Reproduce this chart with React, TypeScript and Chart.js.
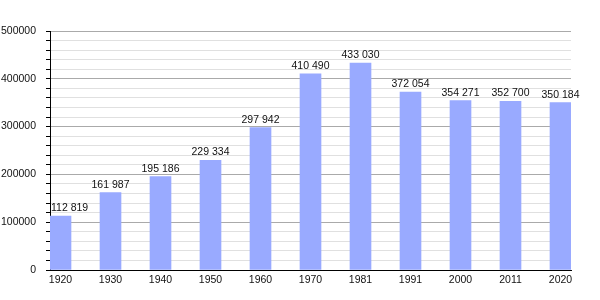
import React, { useEffect, useRef } from "react";
import { Chart, registerables } from "chart.js";

Chart.register(...registerables);

const years = ["1920", "1930", "1940", "1950", "1960", "1970", "1981", "1991", "2000", "2011", "2020"];
const population = [112819, 161987, 195186, 229334, 297942, 410490, 433030, 372054, 354271, 352700, 350184];
const labelTexts = ["112 819", "161 987", "195 186", "229 334", "297 942", "410 490", "433 030", "372 054", "354 271", "352 700", "350 184"];

const FONT = "'Liberation Sans', Arial, sans-serif";

const valueLabels = {
  id: "valueLabels",
  afterDatasetsDraw(chart: any) {
    const ctx = chart.ctx;
    const meta = chart.getDatasetMeta(0);
    const area = chart.chartArea;
    ctx.save();
    ctx.font = `10.5px ${FONT}`;
    ctx.fillStyle = "#111";
    ctx.textBaseline = "alphabetic";
    ctx.textAlign = "left";
    meta.data.forEach((bar: any, i: number) => {
      const t = labelTexts[i];
      const w = ctx.measureText(t).width;
      let x = bar.x - w / 2;
      if (x < area.left + 1) x = area.left + 1;
      ctx.fillText(t, x, bar.y - 5);
    });
    ctx.restore();
  },
};

export default function App() {
  const ref = useRef<HTMLCanvasElement>(null);
  useEffect(() => {
    const chart = new Chart(ref.current as HTMLCanvasElement, {
      type: "bar",
      data: {
        datasets: [
          {
            data: population.map((v, i) => ({ x: i, y: v })),
            backgroundColor: "#99aaff",
            borderWidth: 0,
            barThickness: 21,
          },
        ],
      },
      plugins: [valueLabels],
      options: {
        responsive: false,
        animation: false,
        layout: { padding: { top: 31, right: 29, left: 0, bottom: 0 } },
        plugins: { legend: { display: false }, tooltip: { enabled: false } },
        scales: {
          x: {
            type: "linear",
            offset: false,
            min: -0.21,
            max: 10.21,
            afterBuildTicks: (s: any) => {
              s.ticks = years.map((_, i) => ({ value: i }));
            },
            afterFit: (s: any) => {
              s.height = 30;
            },
            ticks: {
              autoSkip: false,
              maxRotation: 0,
              padding: 4,
              color: "#111",
              font: { family: FONT, size: 10.5 },
              callback: (v: any) => years[Math.round(Number(v))] ?? "",
            },
            grid: { display: true, drawOnChartArea: false, drawTicks: false, offset: false },
            border: { display: true, color: "#000", width: 1 },
          },
          y: {
            min: 0,
            max: 500000,
            afterFit: (s: any) => {
              s.width = 50;
            },
            ticks: {
              stepSize: 20000,
              autoSkip: false,
              padding: 10,
              color: "#111",
              font: { family: FONT, size: 10.5 },
              callback: (v: any) => (Number(v) % 100000 === 0 ? String(v) : ""),
            },
            grid: {
              drawTicks: true,
              tickLength: 4,
              tickColor: "#000",
              color: (c: any) =>
                c.tick && c.tick.value % 100000 === 0 ? "#aaaaaa" : "#e0e0e0",
            },
            border: { display: true, color: "#000", width: 1 },
          },
        },
      },
    });
    return () => chart.destroy();
  }, []);
  return (
    <div style={{ position: "fixed", left: 0, top: 0, width: 600, height: 300, background: "#fff" }}>
      <canvas ref={ref} width={600} height={300} />
    </div>
  );
}
